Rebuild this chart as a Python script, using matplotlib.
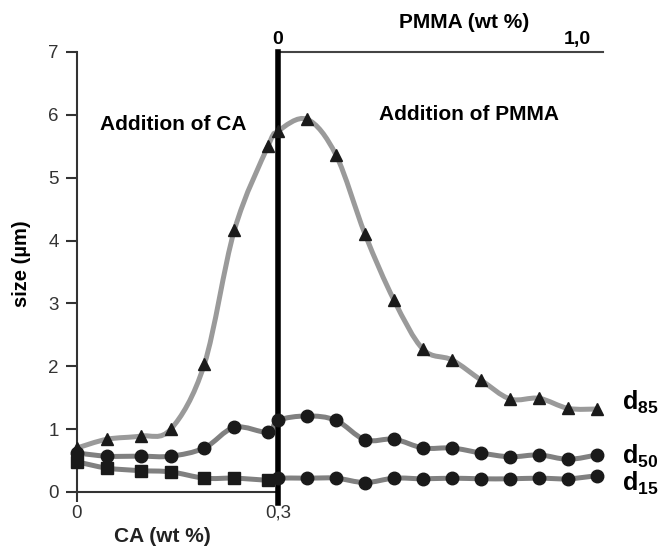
import numpy as np
import matplotlib.pyplot as plt
from matplotlib.path import Path
from matplotlib.patches import PathPatch

plt.rcParams['font.family'] = ['Liberation Sans', 'DejaVu Sans']
plt.rcParams['mathtext.fontset'] = 'custom'
plt.rcParams['mathtext.bf'] = 'Liberation Sans:bold'
plt.rcParams['mathtext.rm'] = 'Liberation Sans'

# CA stage (bottom axis, wt %) then PMMA stage (top axis, wt %)
ca_wt = [0, 0.045, 0.095, 0.14, 0.19, 0.235, 0.285]
pmma_wt = [0, 0.1, 0.2, 0.3, 0.4, 0.5, 0.6, 0.7, 0.8, 0.9, 1.0, 1.1]

d85_ca = [0.70, 0.84, 0.89, 1.00, 2.03, 4.17, 5.50]
d85_pmma = [5.74, 5.93, 5.36, 4.10, 3.05, 2.27, 2.10, 1.78, 1.48, 1.49, 1.33, 1.32]
d50_ca = [0.62, 0.57, 0.57, 0.57, 0.70, 1.03, 0.95]
d50_pmma = [1.14, 1.21, 1.14, 0.83, 0.84, 0.70, 0.70, 0.62, 0.56, 0.59, 0.52, 0.59]
d15_ca = [0.48, 0.38, 0.34, 0.32, 0.22, 0.22, 0.19]
d15_pmma = [0.22, 0.22, 0.22, 0.15, 0.22, 0.21, 0.22, 0.21, 0.21, 0.22, 0.21, 0.26]

ca_end = 0.3      # where PMMA addition starts
scale = 0.433     # CA-axis units per 1 wt % PMMA


def pmma_to_x(p):
    return ca_end + np.asarray(p) * scale


def x_to_pmma(x):
    return (np.asarray(x) - ca_end) / scale


def smooth_path(x, y):
    # excel-like smoothed line as cubic bezier segments
    pts = np.column_stack([x, y])
    n = len(pts)
    verts = [pts[0]]
    codes = [Path.MOVETO]
    for i in range(n - 1):
        p0 = pts[max(i - 1, 0)]
        p1 = pts[i]
        p2 = pts[i + 1]
        p3 = pts[min(i + 2, n - 1)]
        verts += [p1 + (p2 - p0) / 6, p2 - (p3 - p1) / 6, p2]
        codes += [Path.CURVE4] * 3
    return Path(verts, codes)


fig = plt.figure(figsize=(6.66, 5.47), dpi=100)
ax = fig.add_axes([77 / 666, 55 / 547, 526 / 666, 440 / 547])
ax.set_xlim(0, 0.785)
ax.set_ylim(0, 7)

x_all = np.concatenate([ca_wt, pmma_to_x(pmma_wt)])
series = [
    (d85_ca + d85_pmma, ['^'] * 19, '#9a9a9a'),
    (d50_ca + d50_pmma, ['o'] * 19, '#808080'),
    (d15_ca + d15_pmma, ['s'] * 7 + ['o'] * 12, '#808080'),
]
for vals, marks, col in series:
    patch = PathPatch(smooth_path(x_all, vals), facecolor='none', edgecolor=col,
                      lw=3.6, zorder=2, clip_on=False)
    ax.add_patch(patch)
    for m in set(marks):
        idx = [i for i, mm in enumerate(marks) if mm == m]
        ms = 9 if m != 's' else 8
        ax.plot(x_all[idx], np.array(vals)[idx], m, color='#1a1a1a', ms=ms,
                zorder=4, clip_on=False)

# thick separator at end of CA addition
ax.plot([ca_end, ca_end], [-0.18, 7], color='black', lw=4, zorder=3, clip_on=False)

ax.spines['right'].set_visible(False)
ax.spines['left'].set_linewidth(1.5)
ax.spines['left'].set_color('#333333')
ax.spines['bottom'].set_bounds(0, ca_end)
ax.spines['bottom'].set_color('#333333')
ax.spines['bottom'].set_linewidth(1.5)
ax.spines['top'].set_bounds(ca_end, 0.785)
ax.spines['top'].set_color('#444444')
ax.spines['top'].set_linewidth(1.5)

ax.set_yticks(range(0, 8))
ax.tick_params(axis='y', length=8, width=1.5, color='#333333', labelsize=13.5,
               labelcolor='#333333', pad=5)
ax.set_xticks([0, ca_end])
ax.set_xticklabels(['0', '0,3'])
ax.tick_params(axis='x', length=7, width=1.5, color='#333333', labelsize=13.5,
               labelcolor='#333333', pad=2)

top = ax.secondary_xaxis('top', functions=(x_to_pmma, pmma_to_x))
top.set_xticks([0, 1.03])
top.set_xticklabels(['0', '1,0'], fontweight='bold', fontsize=14)
top.tick_params(length=0, pad=3)
top.spines['top'].set_visible(False)

ax.text(0.577, 1.068, 'PMMA (wt %)', transform=ax.get_xaxis_transform(),
        ha='center', va='center', fontsize=15, fontweight='bold')
ax.text(0.128, -0.102, 'CA (wt %)', transform=ax.get_xaxis_transform(),
        ha='center', va='center', fontsize=15, fontweight='bold', color='#222222')
ax.set_ylabel('size (µm)', fontsize=14.5, fontweight='bold')
ax.yaxis.set_label_coords(-0.088, 0.52)

ax.text(0.143, 5.85, 'Addition of CA', ha='center', va='center',
        fontsize=15, fontweight='bold')
ax.text(0.585, 6.0, 'Addition of PMMA', ha='center', va='center',
        fontsize=15, fontweight='bold')

ax.text(0.813, 1.43, r'$\mathbf{d_{85}}$', fontsize=18, va='center', ha='left')
ax.text(0.813, 0.56, r'$\mathbf{d_{50}}$', fontsize=18, va='center', ha='left')
ax.text(0.813, 0.13, r'$\mathbf{d_{15}}$', fontsize=18, va='center', ha='left')

fig.savefig('out.png', dpi=100)
